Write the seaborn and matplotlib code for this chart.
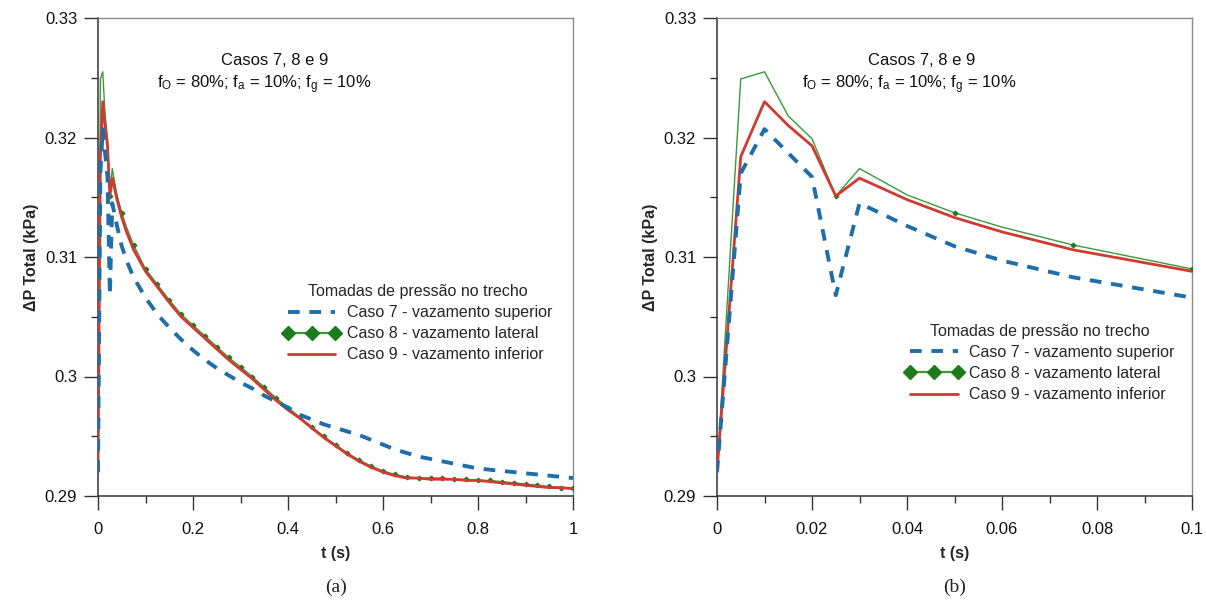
import numpy as np
import pandas as pd
import matplotlib
matplotlib.use("Agg")
import matplotlib.pyplot as plt
from matplotlib.lines import Line2D
from matplotlib.ticker import MultipleLocator, FuncFormatter
import seaborn as sns

# Time instants (s)
t = [0.0, 0.005, 0.01, 0.015, 0.02, 0.025, 0.03, 0.04, 0.05, 0.06, 0.075, 0.1,
     0.125, 0.15, 0.175, 0.2, 0.225, 0.25, 0.275, 0.3, 0.325, 0.35, 0.375, 0.4,
     0.425, 0.45, 0.475, 0.5, 0.525, 0.55, 0.575, 0.6, 0.625, 0.65, 0.675, 0.7,
     0.725, 0.75, 0.775, 0.8, 0.825, 0.85, 0.875, 0.9, 0.925, 0.95, 0.975, 1.0]

# Total pressure drop (kPa), leak at the top
caso7 = [0.2920, 0.3170, 0.3207, 0.3187, 0.3167, 0.3068, 0.3145, 0.3126, 0.3109, 0.3097,
         0.3083, 0.3066, 0.3052, 0.3041, 0.3031, 0.3022, 0.3014, 0.3007, 0.3001, 0.2995,
         0.2990, 0.2984, 0.2979, 0.2974, 0.2968, 0.2964, 0.2960, 0.2957, 0.2954, 0.2951,
         0.2947, 0.2943, 0.2939, 0.2936, 0.2933, 0.2931, 0.2929, 0.2927, 0.2925, 0.2923,
         0.2922, 0.2921, 0.2920, 0.2919, 0.2918, 0.2917, 0.2916, 0.2915]

# Total pressure drop (kPa), leak on the side
caso8 = [0.2920, 0.3249, 0.3255, 0.3218, 0.3199, 0.3151, 0.3174, 0.3152, 0.3137, 0.3125,
         0.3110, 0.3090, 0.3077, 0.3064, 0.3052, 0.3043, 0.3034, 0.3025, 0.3016, 0.3008,
         0.3000, 0.2991, 0.2982, 0.2974, 0.2966, 0.2958, 0.2950, 0.2943, 0.2936, 0.2930,
         0.2925, 0.2921, 0.2918, 0.2916, 0.2915, 0.2915, 0.2915, 0.2914, 0.2914, 0.2913,
         0.2913, 0.2912, 0.2911, 0.2910, 0.2909, 0.2908, 0.2907, 0.2907]

# Total pressure drop (kPa), leak at the bottom
caso9 = [0.2920, 0.3184, 0.3230, 0.3210, 0.3193, 0.3151, 0.3166, 0.3148, 0.3133, 0.3121,
         0.3106, 0.3088, 0.3075, 0.3062, 0.3050, 0.3041, 0.3032, 0.3023, 0.3014, 0.3006,
         0.2998, 0.2989, 0.2980, 0.2972, 0.2965, 0.2957, 0.2949, 0.2942, 0.2935, 0.2929,
         0.2924, 0.2920, 0.2917, 0.2915, 0.2915, 0.2914, 0.2914, 0.2914, 0.2913, 0.2913,
         0.2912, 0.2911, 0.2910, 0.2909, 0.2908, 0.2907, 0.2907, 0.2906]

series_labels = ["Caso 7 - vazamento superior",
                 "Caso 8 - vazamento lateral",
                 "Caso 9 - vazamento inferior"]
legend_title = "Tomadas de pressão no trecho"
title_line1 = "Casos 7, 8 e 9"
title_line2 = r"f$_\mathrm{O}$ = 80%; f$_\mathrm{a}$ = 10%; f$_\mathrm{g}$ = 10%"
panel_tags = ["(a)", "(b)"]

df = pd.DataFrame({"t": t, "caso7": caso7, "caso8": caso8, "caso9": caso9})

sns.set_theme(style="ticks")
plt.rcParams["font.family"] = ["Liberation Sans", "DejaVu Sans"]
plt.rcParams["mathtext.fontset"] = "custom"
plt.rcParams["mathtext.rm"] = "Liberation Sans"
plt.rcParams["mathtext.it"] = "Liberation Sans:italic"

BLUE = "#1f6eaa"
GREEN = "#3a9a3a"
GREEN_MK = "#1d7a1d"
RED = "#d03a30"

W, H = 1207, 602
fig = plt.figure(figsize=(W / 100, H / 100), dpi=100)
fig.patch.set_facecolor("white")

ax_a = fig.add_axes([98 / W, 1 - 496 / H, 475 / W, 478 / H])
ax_b = fig.add_axes([717 / W, 1 - 496 / H, 475 / W, 478 / H])

# green markers every 0.025 s
mark_idx = [i for i, v in enumerate(t) if abs(v / 0.025 - round(v / 0.025)) < 1e-6 and v > 0]

fmt = FuncFormatter(lambda v, p: "%g" % round(v, 6))

panels = [
    (ax_a, 1.0, 0.2, 0.1, 0.373, 0.350, (0.389, 0.443)),
    (ax_b, 0.1, 0.02, 0.01, 0.430, 0.405, (0.396, 0.360)),
]

for ax, xmax, xmaj, xmin, cx1, cx2, leg_xy in panels:
    sns.lineplot(data=df, x="t", y="caso8", ax=ax, color=GREEN, linewidth=1.0,
                 marker="D", markersize=2.5, markevery=mark_idx,
                 markerfacecolor=GREEN_MK, markeredgecolor=GREEN_MK,
                 errorbar=None, sort=False, zorder=3)
    sns.lineplot(data=df, x="t", y="caso9", ax=ax, color=RED, linewidth=2.0,
                 errorbar=None, sort=False, zorder=4)
    sns.lineplot(data=df, x="t", y="caso7", ax=ax, color=BLUE, linewidth=2.8,
                 linestyle=(0, (3, 2.5)), errorbar=None, sort=False, zorder=5)

    ax.set_xlim(0, xmax)
    ax.set_ylim(0.29, 0.33)
    ax.xaxis.set_major_locator(MultipleLocator(xmaj))
    ax.xaxis.set_minor_locator(MultipleLocator(xmin))
    ax.yaxis.set_major_locator(MultipleLocator(0.01))
    ax.yaxis.set_minor_locator(MultipleLocator(0.005))
    ax.xaxis.set_major_formatter(fmt)
    ax.yaxis.set_major_formatter(fmt)
    ax.tick_params(which="major", direction="out", length=10, width=1, color="#333333",
                   labelsize=12, labelcolor="#111111")
    ax.tick_params(which="minor", direction="out", length=5, width=1, color="#333333")
    ax.tick_params(axis="x", which="major", pad=8.5)
    ax.tick_params(axis="y", which="major", pad=5)
    ax.tick_params(top=False, right=False, which="both")

    for side in ("left", "bottom"):
        ax.spines[side].set_color("#333333")
        ax.spines[side].set_linewidth(1.1)
    for side in ("top", "right"):
        ax.spines[side].set_visible(True)
        ax.spines[side].set_color("#8a8a8a")
        ax.spines[side].set_linewidth(1.0)

    ax.set_xlabel("t (s)", fontsize=11.5, fontweight="bold", labelpad=7)
    ax.set_ylabel("ΔP Total (kPa)", fontsize=11.5, fontweight="bold", labelpad=4)

    ax.text(cx1, 0.912, title_line1, transform=ax.transAxes, ha="center", va="center",
            fontsize=12, color="#111111")
    ax.text(cx2, 0.860, title_line2, transform=ax.transAxes, ha="center", va="center",
            fontsize=12, color="#111111")

    handles = [
        Line2D([], [], color=BLUE, linewidth=2.8, linestyle=(0, (3, 2.5))),
        Line2D([], [], color=GREEN, linewidth=1.6, marker="D", markersize=7,
               markerfacecolor=GREEN_MK, markeredgecolor=GREEN_MK),
        Line2D([], [], color=RED, linewidth=2.0),
    ]
    ax.legend(handles, series_labels, title=legend_title, loc="upper left",
              bbox_to_anchor=leg_xy, frameon=False, fontsize=11.5, title_fontsize=11.5,
              handlelength=3.6, handletextpad=0.4, labelspacing=0.38, borderpad=0,
              borderaxespad=0, numpoints=3)

for ax, tag in zip((ax_a, ax_b), panel_tags):
    ax.text(0.5, -0.192, tag, transform=ax.transAxes, ha="center", va="center",
            fontsize=14, family=["Liberation Serif", "DejaVu Serif"], color="#222222")

fig.savefig("out.png", dpi=100, facecolor="white")
